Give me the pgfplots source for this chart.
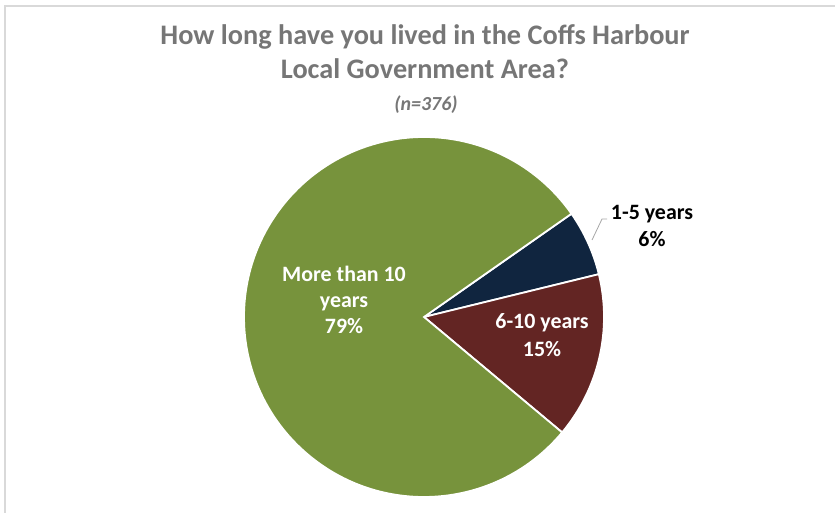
\documentclass[border=0pt]{standalone}
\usepackage{pgfplots}
\pgfplotsset{compat=1.18}
\usepackage{pgfplotstable}
\usepackage{fontspec}
\setmainfont{Carlito}
\definecolor{sGreen}{HTML}{77933C}
\definecolor{sNavy}{HTML}{10253F}
\definecolor{sMaroon}{HTML}{632523}
\definecolor{sTitle}{HTML}{767676}
\definecolor{sFrame}{HTML}{D9D9D9}
\definecolor{sLeader}{HTML}{A6A6A6}

\pgfplotstableread{
label value
1-5 5.9
6-10 14.9
10plus 79.2
}\piedata

\begin{document}
\begin{tikzpicture}[x=1bp,y=1bp]
\useasboundingbox (0,0) rectangle (835,513);
\draw[sFrame, line width=1.2bp] (5,-20) -- (5,507) -- (860,507);
\pgfplotstablegetelem{0}{value}\of\piedata \let\va\pgfplotsretval
\pgfplotstablegetelem{1}{value}\of\piedata \let\vb\pgfplotsretval
\pgfplotstablegetelem{2}{value}\of\piedata \let\vc\pgfplotsretval
\pgfmathsetmacro\tot{\va+\vb+\vc}
\pgfmathsetmacro\Az{35}
\pgfmathsetmacro\Aa{\Az-\va/\tot*360}
\pgfmathsetmacro\Ab{\Aa-\vb/\tot*360}
\pgfmathsetmacro\Ac{\Ab-\vc/\tot*360}
\begin{axis}[at={(0,0)}, anchor=south west, width=835bp, height=513bp,
  scale only axis, xmin=0, xmax=835, ymin=0, ymax=513, hide axis, clip=false]
\fill[sNavy, draw=white, line width=1.8bp, line join=miter]
  (axis cs:{424+180*cos(\Az)},{196+180*sin(\Az)}) arc[start angle=\Az, end angle=\Aa, radius=180bp] -- (axis cs:424,196) -- cycle;
\fill[sMaroon, draw=white, line width=1.8bp, line join=miter]
  (axis cs:{424+180*cos(\Aa)},{196+180*sin(\Aa)}) arc[start angle=\Aa, end angle=\Ab, radius=180bp] -- (axis cs:424,196) -- cycle;
\fill[sGreen, draw=white, line width=1.8bp, line join=miter]
  (axis cs:{424+180*cos(\Ab)},{196+180*sin(\Ab)}) arc[start angle=\Ab, end angle=\Ac, radius=180bp] -- (axis cs:424,196) -- cycle;
\draw[sLeader, line width=0.8bp] (axis cs:592,273) -- (axis cs:602,294) -- (axis cs:607,294);
\tikzset{lab/.style={anchor=base, inner sep=0pt, font=\bfseries\fontsize{22}{26}\selectfont}}
\node[lab, text=white] at (axis cs:344,231) {More than 10};
\node[lab, text=white] at (axis cs:344,205) {years};
\node[lab, text=white] at (axis cs:344,179) {79\%};
\node[lab, text=white] at (axis cs:542,184) {6-10 years};
\node[lab, text=white] at (axis cs:542,156) {15\%};
\node[lab, text=black] at (axis cs:652,293) {1-5 years};
\node[lab, text=black] at (axis cs:652,266) {6\%};
\node[anchor=base, inner sep=0pt, text=sTitle, font=\bfseries\fontsize{28.4}{34}\selectfont] at (axis cs:425,468) {How long have you lived in the Coffs Harbour};
\node[anchor=base, inner sep=0pt, text=sTitle, font=\bfseries\fontsize{28.4}{34}\selectfont] at (axis cs:425,434) {Local Government Area?};
\node[anchor=base, inner sep=0pt, text=sTitle, font=\bfseries\itshape\fontsize{20}{24}\selectfont] at (axis cs:426,402) {(n=376)};
\end{axis}
\end{tikzpicture}
\end{document}
